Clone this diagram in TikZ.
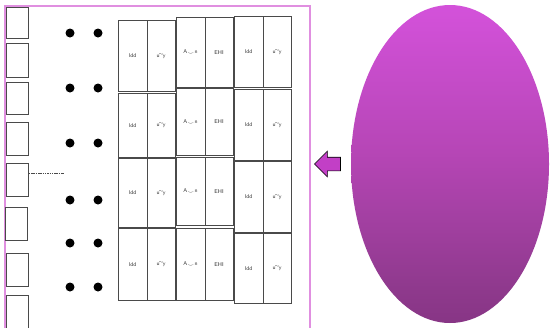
\documentclass[tikz,border=0pt]{standalone}
\usepackage{xcolor}
\usepackage{tikz}
\usetikzlibrary{shapes.geometric, shapes.arrows, positioning}
\definecolor{framepink}{HTML}{E08FE0}
\definecolor{arrowpurple}{HTML}{C23FC6}
\definecolor{cellgrey}{HTML}{4A4A4A}
\definecolor{egglight}{HTML}{E45AEC}
\definecolor{eggpink}{HTML}{D050D6}
\definecolor{eggmid}{HTML}{B646B6}
\definecolor{eggdeep}{HTML}{8E398C}
\definecolor{eggdark}{HTML}{782D76}
\pgfdeclareverticalshading{eggshade}{100bp}{%
  color(0bp)=(eggdark);
  color(14bp)=(eggdark);
  color(30bp)=(eggdeep);
  color(52bp)=(eggmid);
  color(72bp)=(eggpink);
  color(90bp)=(egglight);
  color(100bp)=(egglight)}
\tikzset{
  slot/.style={draw=cellgrey, line width=0.8pt, minimum width=22pt, inner sep=0pt, anchor=north west},
  cell/.style={draw=cellgrey, line width=0.7pt, minimum width=28.5pt, inner sep=0pt, anchor=north west,
    font=\sffamily\fontsize{5.5}{6}\selectfont, text=black!80},
  dot/.style={circle, fill=black, minimum width=7.5pt, minimum height=9pt, inner sep=0pt}
}

\begin{document}
\begin{tikzpicture}[x=1pt, y=-1pt]
\clip (0,0) rectangle (553,327);
\fill[white] (0,0) rectangle (553,327);

% frame
\draw[framepink, line width=1.6pt] (5,340) -- (5,6) -- (310,6) -- (310,340);

% left column of slots
\node[slot, minimum height=31pt] (s1) at (6,7) {};
\node[slot, minimum height=34pt] (s2) at (6,43) {};
\node[slot, minimum height=32pt] (s3) at (6,82) {};
\node[slot, minimum height=33pt] (s4) at (6,122) {};
\node[slot, minimum height=33pt] (s5) at (6,163) {};
\node[slot, minimum height=33pt] (s6) at (5,207) {};
\node[slot, minimum height=33pt] (s7) at (6,253) {};
\node[slot, minimum height=45pt] (s8) at (6,295) {};
\coordinate (dashend) at (64,173);
\draw[cellgrey, dash pattern=on 1.5pt off 0.8pt, line width=0.8pt] (s5.east |- dashend) -- (dashend);

% dots
\foreach \r/\y in {1/33, 2/88, 3/143, 4/200, 5/243, 6/287}{
  \node[dot] (dl\r) at (70,\y) {};
  \node[dot] (dr\r) at (98,\y) {};
}

% column A
\foreach \r/\y/\h in {1/20/71, 2/93/64, 3/158/69, 4/228/72}{
  \node[cell, minimum height=\h pt] (al\r) at (118,\y) {ldd};
  \node[cell, minimum height=\h pt, right=-0.7pt of al\r] (ar\r) {u$^{\!\sim}\!$y};
}
% column B
\foreach \r/\y/\h in {1/17/70, 2/88/67, 3/157/68, 4/228/72}{
  \node[cell, minimum height=\h pt] (bl\r) at (176,\y) {A$_\smile$n};
  \node[cell, minimum height=\h pt, right=-0.7pt of bl\r] (br\r) {EHI};
}
% column C
\foreach \r/\y/\h in {1/16/71, 2/89/71, 3/161/71, 4/233/70}{
  \node[cell, minimum height=\h pt] (cl\r) at (234,\y) {ldd};
  \node[cell, minimum height=\h pt, right=-0.7pt of cl\r] (cr\r) {u$^{\!\sim}\!$y};
}

% egg and arrow
\node[ellipse, minimum width=198pt, minimum height=318pt, inner sep=0pt, shading=eggshade] (egg) at (450,164) {};
\node[single arrow, shape border rotate=180, draw=black, line width=0.6pt, fill=arrowpurple,
  minimum height=26pt, inner xsep=0pt, inner ysep=6.5pt, single arrow head extend=6pt,
  left=10pt of egg] (pointer) {};
\end{tikzpicture}
\end{document}
